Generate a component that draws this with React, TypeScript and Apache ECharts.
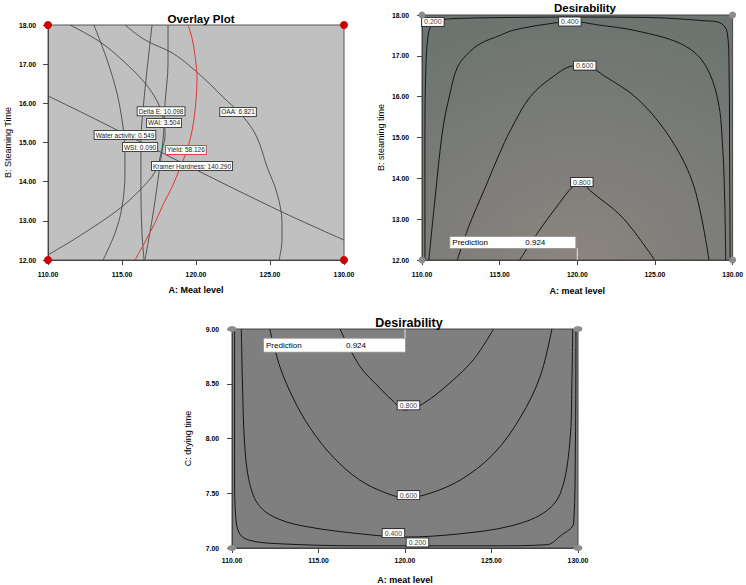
import React, { useEffect, useRef } from 'react';
import * as echarts from 'echarts';

// ---------- axes ----------
const meatTicks = [110, 115, 120, 125, 130];
const steamRange = [12, 18];
const dryRange = [7, 9];

// ---------- Panel 1: Overlay Plot (A: meat level vs B: steaming time) ----------
const overlayCurveA = [[111.49,18],[113.51,17.57],[115.0,17.11],[116.55,16.52],[117.43,16.01],[117.84,15.52],[117.91,15.19],[117.7,14.81],[117.23,14.25],[116.22,13.79],[114.73,13.28],[112.03,12.59],[110,12.13]];
const overlayCurveB = [[113.1,18],[113.99,17.11],[114.66,16.26],[115.07,15.4],[115.2,14.81],[115.2,14.22],[115.0,13.35],[114.53,12.69],[113.72,12]];
const overlayCurveC = [[117.03,18],[116.69,16.85],[116.42,15.83],[116.28,15.06],[116.28,13.79],[116.35,12.69],[116.49,12]];
const overlayCurveD = [[118.11,18],[118.11,17.03],[117.91,16.01],[117.77,15.06],[117.43,14.04],[117.03,13.02],[116.55,12]];
const overlayYield = [[115.88,12],[116.55,12.46],[117.23,12.95],[117.77,13.41],[118.38,13.86],[118.92,14.35],[119.32,14.73],[119.59,15.06],[119.86,15.58],[120.0,16.09],[120.07,16.6],[119.93,17.23],[119.73,17.67],[119.46,18]];
const overlayOAA = [[115.2,18],[116.55,17.62],[118.38,17.29],[119.59,16.95],[120.95,16.49],[121.82,16.16],[122.97,15.75],[123.85,15.32],[124.32,14.94],[124.8,14.38],[125.47,13.71],[125.81,12.95],[125.81,12.51],[125.61,12]];
const overlayKramer = [[110,16.19],[113.18,15.6],[119.59,14.38],[125.68,13.25],[130,12.51]];

const overlayLabelText = ['Delta E: 10.098','WAI: 3.504','Water activity: 0.549','WSI: 0.090','Yield: 58.126','Kramer Hardness: 140.290','OAA: 6.821'];
const overlayLabelX = [117.64,117.84,115.2,116.22,119.32,119.73,122.84];
const overlayLabelY = [15.8,15.5,15.19,14.885,14.81,14.4,15.78];

// ---------- Panel 2: Desirability (A vs B) ----------
const desAB_020 = [[110.19,12],[110.19,15.18],[110.25,16.73],[110.38,17.46],[110.63,17.76],[111.27,17.88],[112.73,17.92],[115.9,17.94],[120.03,17.95],[124.48,17.94],[128.16,17.86],[129.24,17.8],[129.66,17.56],[129.77,16.73],[129.81,14.28],[129.84,12]];
const desAB_040 = [[110.44,12],[110.83,13.47],[111.33,15.18],[111.78,16.04],[112.29,16.73],[113.05,17.09],[113.81,17.31],[114.95,17.49],[115.9,17.63],[118.44,17.8],[119.71,17.84],[121.3,17.76],[123.84,17.61],[126.7,17.29],[128.16,16.82],[129.05,15.92],[129.37,14.69],[129.49,13.47],[129.56,12]];
const desAB_060 = [[112.27,12],[113.05,12.86],[114.0,13.71],[114.95,14.57],[115.7,15.18],[116.97,16.0],[118.44,16.49],[119.71,16.75],[120.48,16.76],[121.81,16.49],[123.95,15.92],[126.06,14.94],[127.52,13.79],[128.48,12]];
const desAB_080 = [[116.29,12],[117.49,12.69],[118.76,13.35],[119.71,13.8],[120.29,13.92],[120.79,13.71],[122.89,13.05],[124.98,12]];
const desABLabelText = ['0.200','0.400','0.600','0.800'];
const desABLabelX = [110.7,119.52,120.48,120.29];
const desABLabelY = [17.83,17.84,16.76,13.91];

// ---------- Panel 3: Desirability (A vs C) ----------
const desAC_020 = [[110.15,9],[110.15,7.65],[110.21,7.29],[110.44,7.13],[111.02,7.07],[112.57,7.04],[117.39,7.02],[125.12,7.02],[128.2,7.03],[128.98,7.11],[129.75,7.23],[129.85,7.95],[129.88,9]];
const desAC_040 = [[110.54,9],[110.6,8.54],[110.73,7.95],[111.02,7.59],[111.6,7.38],[112.76,7.26],[114.5,7.19],[117.39,7.13],[120,7.1],[123.19,7.13],[126.08,7.2],[128.01,7.32],[128.98,7.5],[129.52,7.95],[129.65,8.54],[129.69,9]];
const desAC_060 = [[112.18,9],[112.76,8.66],[113.53,8.37],[114.5,8.1],[115.85,7.83],[117.39,7.62],[118.94,7.5],[120,7.46],[121.25,7.49],[123.19,7.62],[125.12,7.86],[126.66,8.19],[127.82,8.57],[128.49,9]];
const desAC_080 = [[116.24,9],[117.39,8.66],[118.55,8.46],[119.32,8.34],[120,8.26],[121.06,8.32],[122.61,8.51],[123.96,8.72],[125.12,9]];
const desACLabelText = ['0.200','0.400','0.600','0.800'];
const desACLabelX = [120.72,119.33,120.2,120.2];
const desACLabelY = [7.051,7.136,7.483,8.303];

// ---------- prediction ----------
const predictionLabel = 'Prediction';
const predictionValue = '0.924';
const predictionA = 120;
const predictionAB = [[120, 12], [120, 12.294]];
const predictionAC = [[120, 8.911], [120, 9]];

const BOLD = "'Liberation Sans', Arial, sans-serif";
const REG = "'Liberation Sans', Arial, sans-serif";

function xAxis(gridIndex: number, name: string, margin: number, nameGap: number) {
  return {
    type: 'value', gridIndex, min: meatTicks[0], max: meatTicks[meatTicks.length - 1], interval: 5,
    axisLine: { show: true, onZero: false, lineStyle: { color: '#444', width: 1 } },
    axisTick: { show: true, length: 5, lineStyle: { color: '#444' } },
    axisLabel: { formatter: (v: number) => v.toFixed(2), fontSize: 6.8, fontWeight: 'bold', fontFamily: BOLD, color: '#000', margin },
    splitLine: { show: false },
    name, nameLocation: 'middle', nameGap,
    nameTextStyle: { fontSize: 9, fontWeight: 'bold', fontFamily: BOLD, color: '#000' },
  };
}
function yAxis(gridIndex: number, range: number[], interval: number, name: string, margin: number, nameGap: number) {
  return {
    type: 'value', gridIndex, min: range[0], max: range[1], interval,
    axisLine: { show: true, onZero: false, lineStyle: { color: '#444', width: 1 } },
    axisTick: { show: true, length: 5, lineStyle: { color: '#444' } },
    axisLabel: { formatter: (v: number) => v.toFixed(2), fontSize: 6.8, fontWeight: 'bold', fontFamily: BOLD, color: '#000', margin },
    splitLine: { show: false },
    name, nameLocation: 'middle', nameGap,
    nameTextStyle: { fontSize: 9, fontFamily: REG, color: '#000' },
  };
}

function lineS(idx: number, data: number[][], color = '#1a1a1a', width = 1) {
  return {
    type: 'line', xAxisIndex: idx, yAxisIndex: idx, data, showSymbol: false, symbol: 'none',
    smooth: 0.35, lineStyle: { color, width }, silent: true, z: 3, animation: false,
  };
}

function labelS(idx: number, texts: string[], xs: number[], ys: number[], style: any, special?: Record<string, any>) {
  return {
    type: 'scatter', xAxisIndex: idx, yAxisIndex: idx, symbolSize: 0, silent: true, z: 6,
    itemStyle: { color: '#fff', opacity: 1 },
    data: texts.map((t, i) => ({ name: t, value: [xs[i], ys[i]], label: special && special[t] ? special[t] : undefined })),
    label: { show: true, position: 'inside', formatter: '{b}', ...style },
  };
}

function cornerS(idx: number, yr: number[], color: string, size: number | number[]) {
  return {
    type: 'scatter', xAxisIndex: idx, yAxisIndex: idx, clip: false, silent: true, z: 8,
    symbolSize: size, itemStyle: { color, opacity: 1 },
    data: [[meatTicks[0], yr[0]], [meatTicks[0], yr[1]], [meatTicks[4], yr[0]], [meatTicks[4], yr[1]]],
  };
}

function predictionS(idx: number, anchor: number[], pos: number[], w1: number, w2: number, lh: number) {
  return {
    type: 'scatter', xAxisIndex: idx, yAxisIndex: idx, symbolSize: 0, silent: true, z: 7,
    itemStyle: { color: '#fff', opacity: 1 },
    data: [{ value: anchor }],
    label: {
      show: true, position: pos,
      formatter: `{a|${predictionLabel}}{b|${predictionValue}}`,
      backgroundColor: '#fff', borderColor: '#999', borderWidth: 1, padding: [1, 2],
      rich: {
        a: { width: w1, fontSize: 8, fontFamily: REG, color: '#000', lineHeight: lh },
        b: { width: w2, fontSize: 8, fontFamily: REG, color: '#000', lineHeight: lh },
      },
    },
  };
}

export default function App() {
  const ref = useRef<HTMLDivElement>(null);
  useEffect(() => {
    if (!ref.current) return;
    const chart = echarts.init(ref.current, null, { renderer: 'svg' });
    const overlayLabelStyle = {
      fontSize: 6.5, fontFamily: REG, color: '#222', backgroundColor: '#fff',
      borderColor: '#444', borderWidth: 1, padding: [1, 1, 0, 1], lineHeight: 7,
    };
    const desLabelStyle = {
      fontSize: 7, fontFamily: REG, color: '#444', backgroundColor: '#fff',
      borderColor: '#333', borderWidth: 1, padding: [0, 2], lineHeight: 8,
    };
    const option: any = {
      animation: false,
      backgroundColor: '#fff',
      title: [
        { text: 'Overlay Plot', left: 196, top: 8, textAlign: 'center', textStyle: { fontSize: 11.5, fontWeight: 'bold', fontFamily: BOLD, color: '#000' } },
        { text: 'Desirability', left: 580, top: -3, textAlign: 'center', textStyle: { fontSize: 11.5, fontWeight: 'bold', fontFamily: BOLD, color: '#000' } },
        { text: 'Desirability', left: 404, top: 311, textAlign: 'center', textStyle: { fontSize: 12.5, fontWeight: 'bold', fontFamily: BOLD, color: '#000' } },
      ],
      grid: [
        { left: 48, top: 25, width: 296, height: 235, show: true, backgroundColor: '#c0c0c0', borderColor: '#555', borderWidth: 1 },
        {
          left: 422, top: 15, width: 315, height: 245, show: true, borderColor: '#444', borderWidth: 1,
          backgroundColor: new echarts.graphic.RadialGradient(0.5, 1, 1, [
            { offset: 0, color: '#8b8581' }, { offset: 1, color: '#6d7470' },
          ]),
        },
        { left: 232, top: 329, width: 346, height: 224, show: true, backgroundColor: '#7f7f7f', borderColor: '#444', borderWidth: 1 },
      ],
      xAxis: [
        xAxis(0, 'A: Meat level', 11, 25),
        xAxis(1, 'A: meat level', 11, 26),
        xAxis(2, 'A: meat level', 9, 27),
      ],
      yAxis: [
        yAxis(0, steamRange, 1, 'B: Steaming Time', 12, 36),
        yAxis(1, steamRange, 1, 'B: steaming time', 13, 37),
        yAxis(2, dryRange, 0.5, 'C: drying time', 13, 40),
      ],
      series: [
        lineS(0, overlayCurveA, '#3a3a3a', 0.8),
        lineS(0, overlayCurveB, '#3a3a3a', 0.8),
        lineS(0, overlayCurveC, '#3a3a3a', 0.8),
        lineS(0, overlayCurveD, '#3a3a3a', 0.8),
        lineS(0, overlayOAA, '#3a3a3a', 0.8),
        lineS(0, overlayKramer, '#3a3a3a', 0.8),
        lineS(0, overlayYield, '#e03535', 1),
        labelS(0, overlayLabelText, overlayLabelX, overlayLabelY, overlayLabelStyle, {
          'Yield: 58.126': { borderColor: '#e04040' },
        }),
        cornerS(0, steamRange, '#cc0000', 8),

        lineS(1, desAB_020, '#151515', 1),
        lineS(1, desAB_040, '#151515', 1),
        lineS(1, desAB_060, '#151515', 1),
        lineS(1, desAB_080, '#151515', 1),
        labelS(1, desABLabelText, desABLabelX, desABLabelY, desLabelStyle),
        lineS(1, predictionAB, '#e8e8e8', 1),
        predictionS(1, [predictionA, predictionAB[1][1]], [-127, -11], 73, 48, 9),
        cornerS(1, steamRange, '#8c8c8c', 7),

        lineS(2, desAC_020, '#151515', 1),
        lineS(2, desAC_040, '#151515', 1),
        lineS(2, desAC_060, '#151515', 1),
        lineS(2, desAC_080, '#151515', 1),
        labelS(2, desACLabelText, desACLabelX, desACLabelY, desLabelStyle),
        lineS(2, predictionAC, '#e8e8e8', 1),
        predictionS(2, [predictionA, predictionAC[0][1]], [-141, 0], 80, 57, 11),
        cornerS(2, dryRange, '#8c8c8c', [9, 6]),
      ],
    };
    chart.setOption(option);
    return () => chart.dispose();
  }, []);
  return <div ref={ref} style={{ position: 'fixed', left: 0, top: 0, width: 746, height: 585 }} />;
}
